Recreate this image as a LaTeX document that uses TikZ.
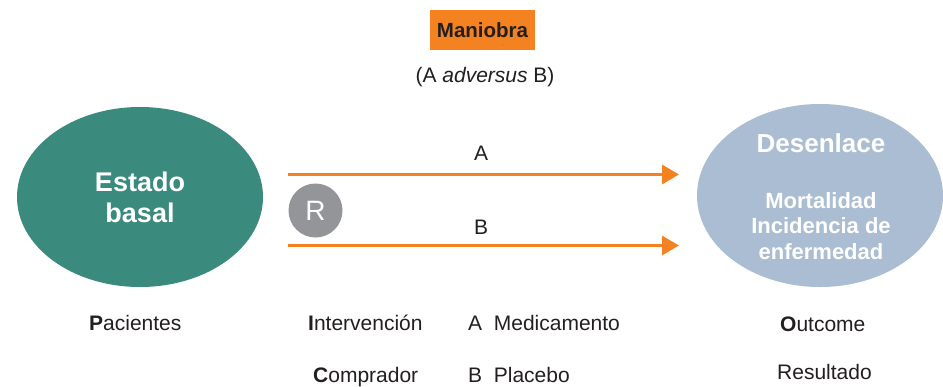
\documentclass[tikz,border=0pt]{standalone}
\usepackage{fontspec}
\setmainfont{Liberation Sans}
\usetikzlibrary{arrows.meta}
\definecolor{teal1}{HTML}{3A8A7E}
\definecolor{blue1}{HTML}{ABBDD3}
\definecolor{orange1}{HTML}{F58220}
\definecolor{gray1}{HTML}{939598}
\definecolor{txt}{HTML}{231F20}
\tikzset{
  body/.style={text=txt,font=\fontsize{21}{24}\selectfont,inner sep=0pt},
  arr/.style={draw=orange1,line width=3.2pt,-{Triangle[length=17pt,width=19pt]}},
}
\begin{document}
\begin{tikzpicture}[x=1pt,y=-1pt]
\useasboundingbox (0,0) rectangle (943,386);
\fill[white] (0,0) rectangle (943,386);
% ellipses
\fill[teal1] (140,197) ellipse [x radius=123, y radius=90];
\node[text=white,font=\fontsize{27}{31}\selectfont\bfseries,align=center] (eb) at (140,197) {Estado\\basal};
\fill[blue1] (820,195.5) ellipse [x radius=123, y radius=91.5];
\node[text=white,font=\fontsize{26}{30}\selectfont\bfseries] (des) at (821,143) {Desenlace};
\node[text=white,font=\fontsize{22}{25.5}\selectfont\bfseries,align=center] (mort) at (821,226) {Mortalidad\\Incidencia de\\enfermedad};
% coordinates for arrows
\coordinate (a0) at (288,174.5);
\coordinate (a1) at (679,174.5);
\coordinate (b0) at (288,245.5);
\coordinate (b1) at (679,245.5);
\draw[arr] (a0) -- (a1);
\draw[arr] (b0) -- (b1);
\node[body] (la) at (481,153) {A};
\node[body] (lb) at (481,227) {B};
% R circle
\node[circle,fill=gray1,minimum size=54pt,inner sep=0pt,text=white,font=\fontsize{28}{30}\selectfont] (r) at (315.5,210.5) {R};
% top
\node[fill=orange1,text=txt,font=\fontsize{20.5}{24}\selectfont\bfseries,minimum width=105pt,minimum height=40pt,inner sep=0pt] (man) at (482.5,30) {Maniobra};
\node[body] (adv) at (485,77) {(A \textit{adversus} B)};
% bottom
\node[body,anchor=base west] (pac) at (89,330) {\textbf{P}acientes};
\node[body,anchor=base west] (int) at (308,330) {\textbf{I}ntervención};
\node[body,anchor=base west] (med) at (468,330) {A\ \ Medicamento};
\node[body,anchor=base west] (com) at (313,382) {\textbf{C}omprador};
\node[body,anchor=base west] (pla) at (468,382) {B\ \ Placebo};
\node[body,anchor=base west] (out) at (780,331) {\textbf{O}utcome};
\node[body,anchor=base west] (res) at (777,379) {Resultado};
\end{tikzpicture}
\end{document}
